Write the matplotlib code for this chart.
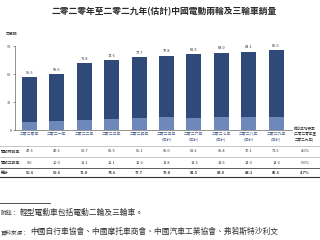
import matplotlib
matplotlib.use("Agg")
import matplotlib.pyplot as plt

plt.rcParams['font.family'] = ['Noto Sans CJK TC', 'DejaVu Sans']

years = ["二零二零年", "二零二一年", "二零二二年", "二零二三年", "二零二四年",
         "二零二五年\n(估計)", "二零二六年\n(估計)", "二零二七年\n(估計)",
         "二零二八年\n(估計)", "二零二九年\n(估計)"]
two_wheel = [47.6, 49.6, 60.7, 62.5, 65.1, 66.0, 68.2, 69.4, 70.1, 71.6]
three_wheel = [9.0, 10.0, 11.1, 12.1, 12.6, 13.8, 13.3, 13.6, 14.0, 14.0]
totals = [56.6, 59.6, 71.8, 74.6, 77.7, 79.8, 81.5, 83.0, 84.1, 85.6]
row_names = ["電動兩輪車", "電動三輪車", "總計"]
cagr = ["4.6%", "5.0%", "4.7%"]
yticks = [0, 30, 60, 90]

W, H = 320, 240
dark = "#2f4a78"
light = "#6f88bb"
tick_col = "#53658f"


def fx(x):
    return x / W


def fy(y):
    return 1 - y / H


fig = plt.figure(figsize=(3.2, 2.4), dpi=100)
fig.patch.set_facecolor("white")

# axes placed in pixel coordinates
left, right, top, bottom = 15, 292, 46, 130
ax = fig.add_axes([fx(left), fy(bottom), (right - left) / W, (bottom - top) / H])

x = list(range(len(years)))
ax.bar(x, three_wheel, width=0.55, color=light)
ax.bar(x, two_wheel, width=0.55, bottom=three_wheel, color=dark)
for i, t in enumerate(totals):
    ax.text(i, t + 2.5, f"{t:.1f}", ha="center", va="bottom", fontsize=2.8, color="#333333")

ax.set_xlim(-0.53, 9.58)
ax.set_ylim(0, 90)
ax.set_yticks(yticks)
ax.set_yticklabels([str(v) for v in yticks], fontsize=2.8, color="#444444")
ax.set_xticks(x)
ax.set_xticklabels(years, fontsize=2.8, color=tick_col, linespacing=1.3)
ax.tick_params(axis="y", length=1.5, width=0.5, pad=1, color="#666666")
ax.tick_params(axis="x", length=0, pad=1.5)
for s in ["top", "right"]:
    ax.spines[s].set_visible(False)
ax.spines["left"].set_linewidth(0.5)
ax.spines["left"].set_color("#666666")
ax.spines["bottom"].set_linewidth(0.5)
ax.spines["bottom"].set_color("#666666")

fig.text(fx(164), fy(12), "二零二零年至二零二九年(估計)中國電動兩輪及三輪車銷量",
         ha="center", va="center", fontsize=6.3, fontweight="bold", color="#2a2a2a")
fig.text(fx(6), fy(34), "百萬輛", ha="left", va="center", fontsize=2.8, color="#444444")

# CAGR header
fig.text(fx(305), fy(134), "複合年增長率\n(二零二零年至\n二零二九年)", ha="center", va="center",
         fontsize=2.6, color="#333333", linespacing=1.3)

# table
row_y = [151.5, 162.5, 172.5]
for r, (name, vals) in enumerate(zip(row_names, [two_wheel, three_wheel, totals])):
    bold = "bold" if r == 2 else "normal"
    fig.text(fx(1), fy(row_y[r]), name, ha="left", va="center", fontsize=2.8,
             color="#333333", fontweight=bold)
    for i, v in enumerate(vals):
        px = left + (i + 0.53) / (9.58 + 0.53) * (right - left)
        fig.text(fx(px), fy(row_y[r]), f"{v:.1f}", ha="center", va="center",
                 fontsize=2.8, color="#333333", fontweight=bold)
    fig.text(fx(305), fy(row_y[r]), cagr[r], ha="center", va="center",
             fontsize=2.8, color="#333333", fontweight=bold)

for ly, lw, c in [(146, 0.4, "#999999"), (157, 0.4, "#999999"), (168, 0.6, "#444444"), (177, 0.8, "#333333")]:
    fig.add_artist(plt.Line2D([0, 1], [fy(ly), fy(ly)], lw=lw, color=c, transform=fig.transFigure))

# notes
fig.add_artist(plt.Line2D([0, fx(50)], [fy(203), fy(203)], lw=0.6, color="#333333", transform=fig.transFigure))
fig.text(fx(1), fy(213), "附註：", ha="left", va="center", fontsize=4.2, color="#333333")
fig.text(fx(20), fy(213), "輕型電動車包括電動二輪及三輪車。", ha="left", va="center",
         fontsize=5.6, color="#333333")
fig.text(fx(1), fy(232), "資料來源：", ha="left", va="center", fontsize=4.0, color="#333333")
fig.text(fx(30), fy(232), "中國自行車協會、中國摩托車商會、中國汽車工業協會、弗若斯特沙利文",
         ha="left", va="center", fontsize=5.6, color="#333333")

fig.savefig("out.png", dpi=100)
